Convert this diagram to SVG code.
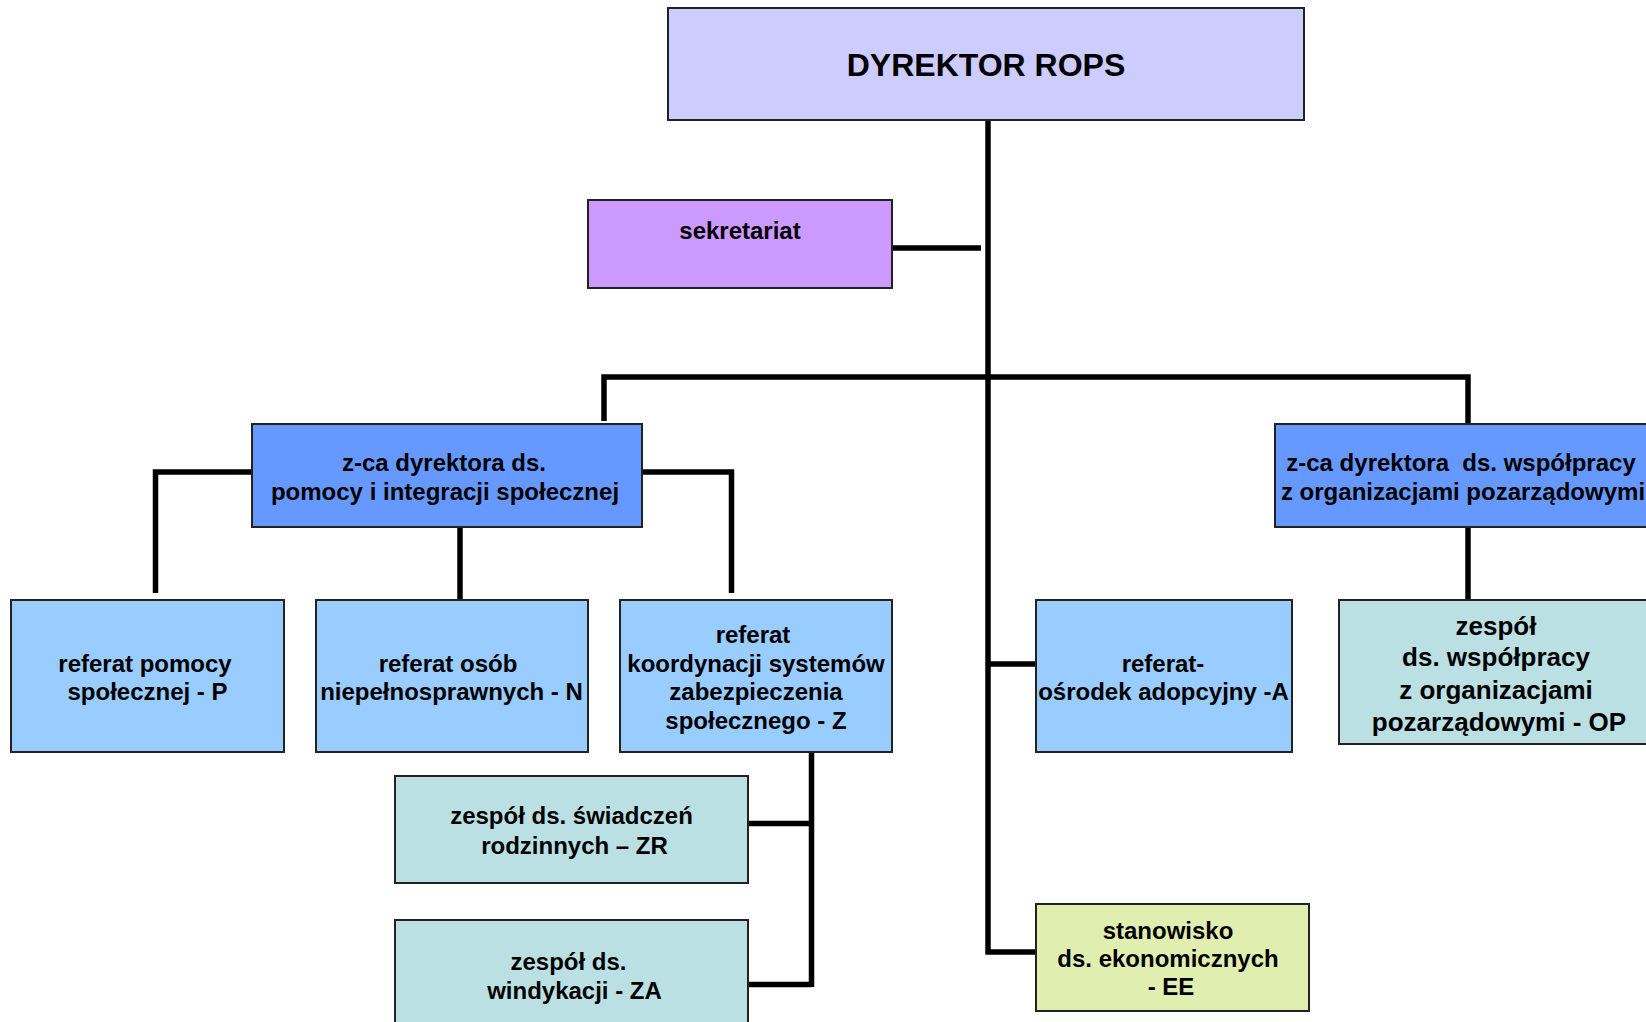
<svg xmlns="http://www.w3.org/2000/svg" width="1646" height="1022" viewBox="0 0 1646 1022">
<style>
  .box { stroke: #222; stroke-width: 2; }
  .dir { fill: #CCCCFF; }
  .sek { fill: #CC99FF; }
  .zca { fill: #6699FF; }
  .ref { fill: #99CCFF; }
  .zes { fill: #BBE0E3; }
  .ee  { fill: #E0EFB0; }
  text { font-family: "Liberation Sans", Arial, sans-serif; font-weight: bold; font-size: 24px; fill: #000; text-anchor: middle; white-space: pre; }
  .big { font-size: 32px; }
  .op { font-size: 26px; }
  .conn { fill: none; stroke: #000; stroke-width: 5.5; stroke-linejoin: miter; stroke-linecap: butt; }
</style>
<rect width="1646" height="1022" fill="#fff"/>
<g id="connectors">
  <path class="conn" d="M988 120 V952 H1036"/>
  <path class="conn" d="M892 248 H981"/>
  <path class="conn" d="M604 421 V377 H1468 V424"/>
  <path class="conn" d="M1468 527 V600"/>
  <path class="conn" d="M252 472 H155.5 V593"/>
  <path class="conn" d="M460 522 V600"/>
  <path class="conn" d="M642 472 H731.5 V593"/>
  <path class="conn" d="M988 664 H1036"/>
  <path class="conn" d="M811.5 745 V987"/>
  <path class="conn" d="M748 823.5 H811.5"/>
  <path class="conn" d="M748 984.5 H811.5"/>
</g>
<g id="dyrektor">
  <rect class="box dir" x="668" y="8" width="636" height="112"/>
  <text class="big" x="986" y="76">DYREKTOR ROPS</text>
</g>
<g id="sekretariat">
  <rect class="box sek" x="588" y="200" width="304" height="88"/>
  <text x="740" y="238.5">sekretariat</text>
</g>
<g id="zca-pomocy">
  <rect class="box zca" x="252" y="424" width="390" height="103"/>
  <text x="444" y="470.5">z-ca dyrektora ds.</text>
  <text x="445" y="499.5">pomocy i integracji społecznej</text>
</g>
<g id="zca-wspolpracy">
  <rect class="box zca" x="1275" y="424" width="395" height="103"/>
  <text x="1461" y="470.5">z-ca dyrektora  ds. współpracy</text>
  <text x="1463" y="499.5">z organizacjami pozarządowymi</text>
</g>
<g id="referat-p">
  <rect class="box ref" x="11" y="600" width="273" height="152"/>
  <text x="145" y="672">referat pomocy</text>
  <text x="147.5" y="700">społecznej - P</text>
</g>
<g id="referat-n">
  <rect class="box ref" x="316" y="600" width="272" height="152"/>
  <text x="448" y="672">referat osób</text>
  <text x="451.5" y="700">niepełnosprawnych - N</text>
</g>
<g id="referat-z">
  <rect class="box ref" x="620" y="600" width="272" height="152"/>
  <text x="753" y="642.5">referat</text>
  <text x="756" y="672">koordynacji systemów</text>
  <text x="756" y="700">zabezpieczenia</text>
  <text x="756" y="728.5">społecznego - Z</text>
</g>
<g id="referat-a">
  <rect class="box ref" x="1036" y="600" width="256" height="152"/>
  <text x="1163" y="672">referat-</text>
  <text x="1163.5" y="700">ośrodek adopcyjny -A</text>
</g>
<g id="zespol-op">
  <rect class="box zes" x="1339" y="600" width="320" height="144"/>
  <text class="op" x="1496" y="634.5">zespół</text>
  <text class="op" x="1496" y="666">ds. współpracy</text>
  <text class="op" x="1496" y="698.5">z organizacjami</text>
  <text class="op" x="1499" y="731">pozarządowymi - OP</text>
</g>
<g id="zespol-zr">
  <rect class="box zes" x="395" y="776" width="353" height="107"/>
  <text x="571.5" y="824">zespół ds. świadczeń</text>
  <text x="574.5" y="853.5">rodzinnych – ZR</text>
</g>
<g id="zespol-za">
  <rect class="box zes" x="395" y="920" width="353" height="110"/>
  <text x="568.5" y="970">zespół ds.</text>
  <text x="574.5" y="998.5">windykacji - ZA</text>
</g>
<g id="stanowisko-ee">
  <rect class="box ee" x="1036" y="904" width="273" height="107"/>
  <text x="1168" y="938.5">stanowisko</text>
  <text x="1168" y="967">ds. ekonomicznych</text>
  <text x="1171" y="995">- EE</text>
</g>
</svg>
